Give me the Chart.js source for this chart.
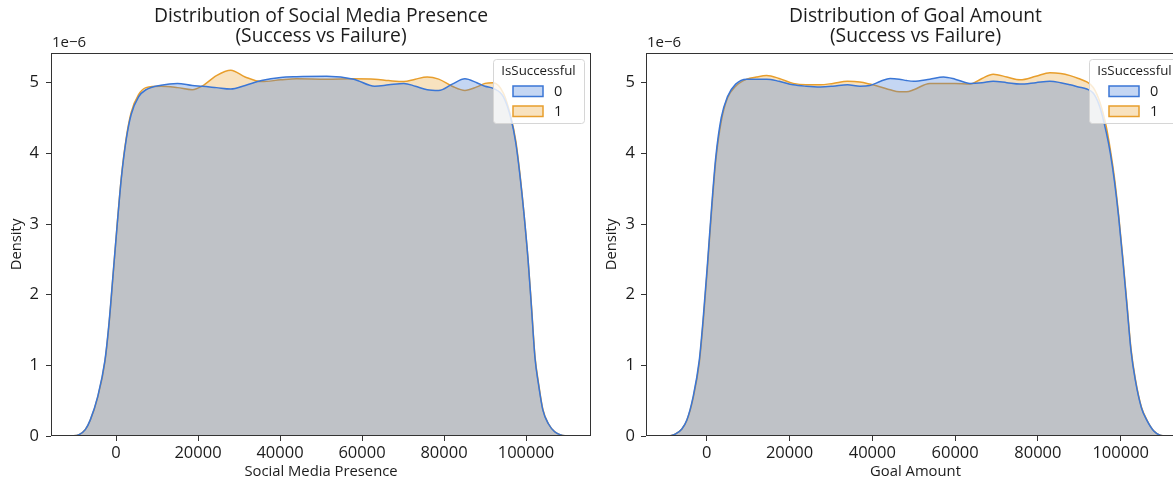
<!DOCTYPE html>
<html><head><meta charset="utf-8">
<script src="https://cdn.jsdelivr.net/npm/chart.js@4.4.1/dist/chart.umd.min.js"></script>
<style>
html,body{margin:0;padding:0;background:#fff;overflow:hidden;width:1173px;height:484px;}
#wrap{position:relative;width:1173px;height:484px;overflow:hidden;}
.c{position:absolute;top:0;}
</style></head><body>
<div id="wrap">
<div class="c" style="left:0;width:600px;height:484px"><canvas id="c1" width="600" height="484"></canvas></div>
<div class="c" style="left:596px;width:604px;height:484px"><canvas id="c2" width="604" height="484"></canvas></div>
</div>
<script>
// ---- data (density in units of 1e-6) ----
const socialX = [-11000,-9000,-7500,-6300,-4500,-2700,-1700,-700,300,1300,2500,3700,5500,7300,11000,15000,18600,21000,24500,28000,31500,35500,40200,44000,51400,58000,63100,66500,70200,73000,75900,78700,82000,85100,88000,90000,92000,94500,96300,97500,98500,99500,100500,101300,102200,103000,104100,105500,107000,108500,110000];
const socialY0 = [0,0.02,0.09,0.225,0.55,1.07,1.6,2.3,3.0,3.65,4.2,4.55,4.8,4.9,4.965,4.99,4.96,4.95,4.93,4.91,4.96,5.03,5.075,5.085,5.09,5.05,4.95,4.97,4.99,4.95,4.90,4.89,4.98,5.055,5.0,4.95,4.92,4.8,4.5,4.15,3.7,3.15,2.5,1.85,1.1,0.75,0.37,0.17,0.06,0.015,0];
const socialY1 = [0,0.02,0.09,0.22,0.54,1.05,1.58,2.28,3.0,3.66,4.22,4.58,4.83,4.93,4.95,4.93,4.90,4.95,5.10,5.175,5.08,5.015,5.04,5.055,5.05,5.055,5.05,5.03,5.015,5.05,5.08,5.05,4.95,4.89,4.94,4.99,5.0,4.85,4.52,4.18,3.72,3.15,2.5,1.87,1.12,0.77,0.38,0.17,0.06,0.015,0];
const goalX = [-9000,-7500,-6000,-4800,-3300,-1800,-800,200,1200,2200,3500,5000,7000,9700,12000,14500,17500,20900,24000,27400,30500,34000,37000,39400,42000,44300,46500,48300,50000,53900,57200,60000,63600,66500,69200,72500,75700,79500,82900,85500,87800,89800,91800,93400,95000,96500,97500,98500,99500,100500,101500,102500,103500,105000,106300,108000,109500,110500];
const goalY0 = [0,0.03,0.1,0.225,0.55,1.07,1.7,2.45,3.25,3.95,4.5,4.8,4.98,5.05,5.05,5.05,5.02,4.97,4.95,4.94,4.95,4.97,4.95,4.96,5.02,5.06,5.05,5.03,5.02,5.05,5.08,5.05,4.99,5.0,5.02,5.0,4.98,5.0,5.02,5.0,4.97,4.94,4.91,4.85,4.65,4.3,4.0,3.6,3.1,2.5,1.85,1.2,0.8,0.4,0.225,0.07,0.01,0];
const goalY1 = [0,0.03,0.1,0.22,0.53,1.03,1.65,2.4,3.2,3.9,4.45,4.78,4.95,5.05,5.08,5.10,5.06,4.99,4.97,4.97,4.99,5.02,5.01,4.98,4.94,4.90,4.87,4.87,4.90,4.99,4.99,4.99,4.98,5.06,5.12,5.08,5.04,5.09,5.14,5.13,5.10,5.06,5.01,4.93,4.72,4.38,4.05,3.65,3.13,2.53,1.88,1.23,0.82,0.41,0.23,0.07,0.01,0];
const xTicks = [0,20000,40000,60000,80000,100000];
const yTicks = [0,1,2,3,4,5];
const hueLevels = ['0','1'];
const hueTitle = 'IsSuccessful';

const FONT = "'Open Sans', sans-serif";
const BLUE = '#3a76d6', ORANGE = '#e89e2c';
const BLUE_F = 'rgba(58,118,214,0.3)', ORANGE_F = 'rgba(232,158,44,0.3)';
const TXT = '#1c1c1c';

function pts(xs, ys){ return xs.map((x,i)=>({x:x, y:ys[i]})); }

const decor = {
  id:'decor',
  afterDraw(chart, args, o){
    const ctx = chart.ctx, a = chart.chartArea;
    ctx.save();
    // spines
    ctx.strokeStyle = '#333'; ctx.lineWidth = 1;
    ctx.strokeRect(Math.round(a.left)+0.5, Math.round(a.top)+0.5, Math.round(a.right-a.left)-1, Math.round(a.bottom-a.top)-1);
    // legend
    const L = o.legend;
    ctx.fillStyle = 'rgba(255,255,255,0.8)';
    ctx.strokeStyle = '#d6d6d6';
    ctx.beginPath();
    ctx.roundRect(L.x+0.5, L.y+0.5, L.w, L.h, 3);
    ctx.fill(); ctx.stroke();
    ctx.fillStyle = TXT;
    ctx.textAlign = 'center'; ctx.textBaseline = 'middle';
    ctx.font = "13.3px " + FONT;
    ctx.fillText(hueTitle, L.x + L.w/2, L.y + 12);
    const cols = [[BLUE_F, BLUE],[ORANGE_F, ORANGE]];
    hueLevels.forEach((lv,i)=>{
      const cy = L.y + 32 + i*20;
      ctx.fillStyle = cols[i][0];
      ctx.fillRect(L.x+20, cy-5, 30, 10.5);
      ctx.strokeStyle = cols[i][1]; ctx.lineWidth = 1.5;
      ctx.strokeRect(L.x+20, cy-5, 30, 10.5);
      ctx.fillStyle = TXT; ctx.textAlign = 'left';
      ctx.font = "14.5px " + FONT;
      ctx.fillText(lv, L.x+61, cy+0.5);
    });
    // titles
    const cx = (a.left + a.right)/2;
    ctx.fillStyle = TXT; ctx.textAlign = 'center'; ctx.textBaseline = 'middle';
    ctx.font = "19.3px " + FONT;
    ctx.fillText(o.title[0], cx, 17);
    ctx.fillText(o.title[1], cx, 37);
    // offset text
    ctx.font = "15px " + FONT; ctx.textAlign = 'left';
    ctx.fillText('1e\u22126', a.left + 1, 43);
    // axis labels
    ctx.font = "14.8px " + FONT; ctx.textAlign = 'center';
    ctx.fillText(o.xlabel, cx, 472);
    ctx.save();
    ctx.translate(a.left - 34, (a.top + a.bottom)/2);
    ctx.rotate(-Math.PI/2);
    ctx.fillText('Density', 0, 0);
    ctx.restore();
    ctx.restore();
  }
};

function makeChart(id, xs, y0, y1, xmin, xmax, yAxisW, padRight, tickPadY, title, xlabel){
  return new Chart(document.getElementById(id), {
    type:'line',
    data:{ datasets:[
      { label:hueLevels[0], data:pts(xs,y0), borderColor:BLUE, backgroundColor:BLUE_F, fill:'origin', borderWidth:1.5, pointRadius:0, cubicInterpolationMode:'monotone' },
      { label:hueLevels[1], data:pts(xs,y1), borderColor:ORANGE, backgroundColor:ORANGE_F, fill:'origin', borderWidth:1.5, pointRadius:0, cubicInterpolationMode:'monotone' }
    ]},
    options:{
      responsive:false, animation:false, devicePixelRatio:1,
      layout:{ padding:{ top:53, right:padRight, left:0, bottom:0 } },
      plugins:{ legend:{display:false}, tooltip:{enabled:false}, title:{display:false},
        decor:{ title:title, xlabel:xlabel, legend:{x:493, y:59, w:91, h:64} } },
      scales:{
        x:{ type:'linear', min:xmin, max:xmax,
          afterBuildTicks:(s)=>{ s.ticks = xTicks.map(v=>({value:v})); },
          afterFit:(s)=>{ s.height = 48; },
          ticks:{ color:TXT, font:{family:FONT, size:16.5}, padding:2, maxRotation:0, autoSkip:false, callback:(v)=>String(v) },
          grid:{ drawOnChartArea:false, drawTicks:true, tickLength:5, tickColor:'#333', tickWidth:1 },
          border:{ display:false } },
        y:{ type:'linear', min:0, max:5.42,
          afterBuildTicks:(s)=>{ s.ticks = yTicks.map(v=>({value:v})); },
          afterFit:(s)=>{ s.width = yAxisW; },
          ticks:{ color:TXT, font:{family:FONT, size:16.5}, padding:tickPadY, callback:(v)=>String(v) },
          grid:{ drawOnChartArea:false, drawTicks:true, tickLength:5, tickColor:'#333', tickWidth:1 },
          border:{ display:false } }
      }
    },
    plugins:[decor]
  });
}

makeChart('c1', socialX, socialY0, socialY1, -15854, 115853, 51, 9, 7,
  ['Distribution of Social Media Presence','(Success vs Failure)'], 'Social Media Presence');
makeChart('c2', goalX, goalY0, goalY1, -14662, 115531, 50, 15, 6,
  ['Distribution of Goal Amount','(Success vs Failure)'], 'Goal Amount');
</script>
</body></html>
